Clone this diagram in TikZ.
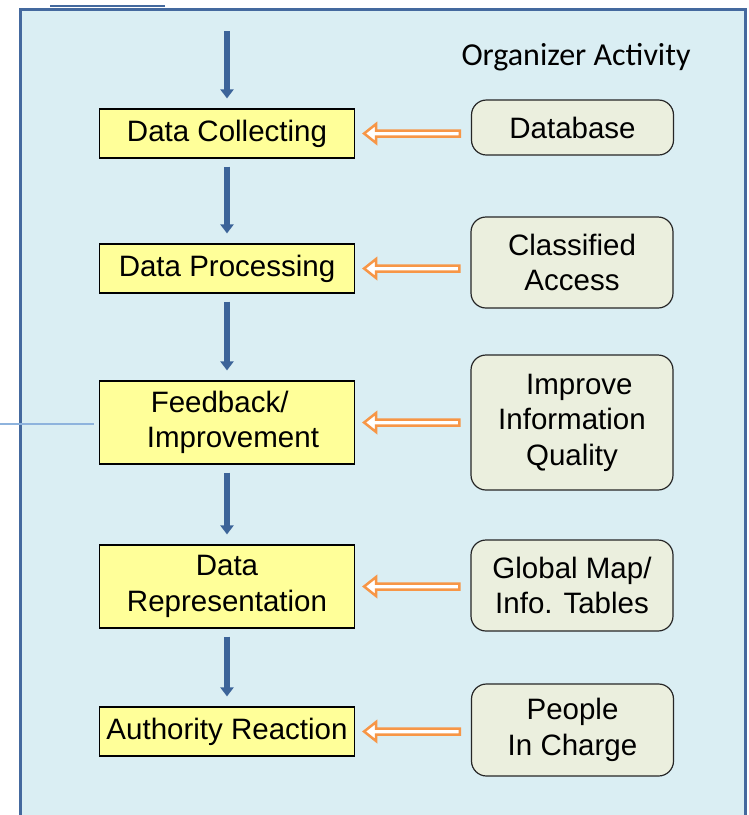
\documentclass[tikz,border=0pt]{standalone}
\usepackage{fontspec}
\setmainfont{Liberation Sans}
\newfontfamily\titlefont{Carlito}
\usetikzlibrary{arrows.meta, calc}

\definecolor{bgblue}{HTML}{DAEEF3}
\definecolor{framecol}{HTML}{44699E}
\definecolor{stageyellow}{HTML}{FFFF99}
\definecolor{sourcegreen}{HTML}{EBEFDE}
\definecolor{flowblue}{HTML}{3C6499}
\definecolor{feedorange}{HTML}{F79646}
\definecolor{sidelink}{HTML}{8EB3DD}

\tikzset{
	stage/.style={draw=black, fill=stageyellow, line width=1.2pt, inner sep=0pt,
		minimum width=255pt, align=center, font=\fontsize{29.5}{35.5}\selectfont},
	source/.style={draw=black!85, fill=sourcegreen, line width=1.2pt, inner sep=0pt,
		rounded corners=15pt, minimum width=202pt, align=center,
		font=\fontsize{29.5}{35.5}\selectfont},
	flow/.style={draw=flowblue, line width=6pt, -{Triangle[width=13pt,length=9pt]},
		shorten <=8pt, shorten >=10pt},
	feed/.style={draw=feedorange, fill=white, line width=2.5pt, line join=miter},
}

% hollow block arrow from a source box (#1) to a stage box (#2)
\newcommand{\feedarrow}[2]{%
	\draw[feed] ($(#2.east)+(9,0)$) -- ++(12,-9.5) -- ++(0,6.5)
	-- ($(#2.east -| #1.west)+(-11,-3)$) -- ++(0,6)
	-- ($(#2.east)+(21,3)$) -- ++(0,6.5) -- cycle;}

\begin{document}
\begin{tikzpicture}[x=1pt, y=-1pt, line cap=butt, line join=miter]
	\useasboundingbox (0,0) rectangle (749,815);
	
	%========================
	% Frame
	%========================
	\draw[framecol, line width=3pt, fill=bgblue] (20,9) rectangle (745,840);
	\draw[framecol, line width=2pt] (50,6) -- (165,6);
	\node[font=\titlefont\fontsize{32}{36}\selectfont] (title) at (576,57) {Organizer Activity};
	
	%========================
	% Left: stages
	%========================
	\node[stage, minimum height=49pt] (dc) at (227,133.5) {Data Collecting};
	\node[stage, minimum height=49pt] (dp) at (227,268.5) {Data Processing};
	\node[stage, minimum height=83pt] (fi) at (227,422.5) {\hspace*{-0.5em}Feedback/\\ \hspace*{0.4em}Improvement};
	\node[stage, minimum height=83pt] (dr) at (227,586.5) {Data\\Representation};
	\node[stage, minimum height=49pt] (ar) at (227,731.5) {Authority Reaction};
	
	%========================
	% Right: sources
	%========================
	\node[source, minimum height=55pt] (db) at (572.5,127.5) {Database};
	\node[source, minimum height=91pt] (ca) at (572,262.5) {Classified\\Access};
	\node[source, minimum height=135pt] (iq) at (572,422.5) {\hspace*{0.5em}Improve\\Information\\Quality};
	\node[source, minimum height=91pt] (gm) at (572,585.5) {Global Map/\\Info. Tables};
	\node[source, minimum height=92pt] (pc) at (572.5,730) {People\\In Charge};
	
	% main flow
	\coordinate (in) at (227,31);
	\draw[flow, shorten <=0pt] (in) -- (dc);
	\foreach \a/\b in {dc/dp, dp/fi, fi/dr, dr/ar}
	\draw[flow] (\a) -- (\b);
	
	% feeds from the sources
	\feedarrow{db}{dc}
	\feedarrow{ca}{dp}
	\feedarrow{iq}{fi}
	\feedarrow{gm}{dr}
	\feedarrow{pc}{ar}
	
	% side link
	\coordinate (side) at (0,424);
	\draw[sidelink, line width=2pt, shorten >=5pt] (side) -- (fi.west |- side);
	
\end{tikzpicture}
\end{document}
